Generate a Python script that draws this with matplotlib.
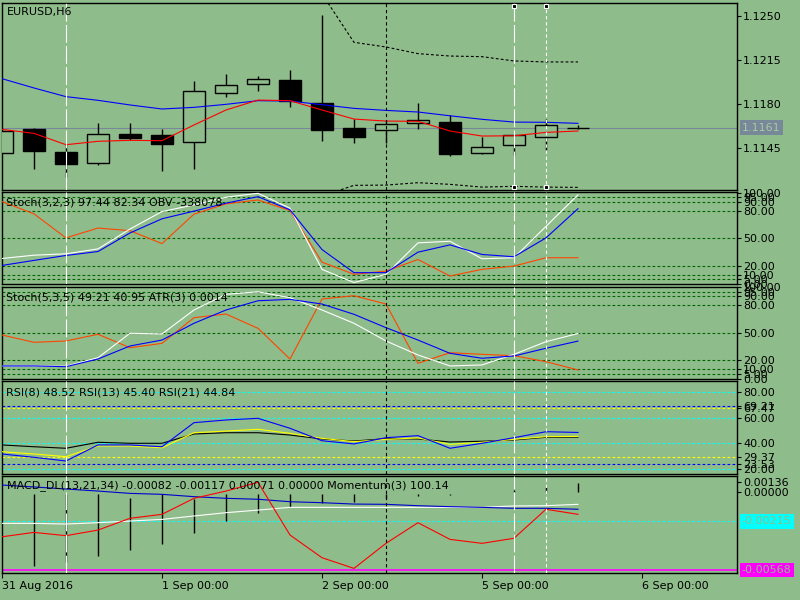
import numpy as np
import matplotlib
matplotlib.use('Agg')
import matplotlib.pyplot as plt
import matplotlib.transforms as mtrans
from matplotlib.patches import Rectangle

# ---- data (bar index 0..18, H6 bars) ----
opens = [1.11410, 1.11599, 1.11413, 1.11331, 1.11556, 1.11549, 1.11493, 1.11883, 1.11954, 1.11986,
         1.11803, 1.11607, 1.11588, 1.11644, 1.11652, 1.11410, 1.11469, 1.11533, 1.11610]
highs = [1.11585, 1.11609, 1.11485, 1.11644, 1.11644, 1.11596, 1.11981, 1.12036, 1.12020, 1.12066,
         1.12506, 1.11676, 1.11670, 1.11803, 1.11708, 1.11537, 1.11553, 1.11676, 1.11628]
lows = [1.11410, 1.11283, 1.11214, 1.11315, 1.11511, 1.11267, 1.11283, 1.11856, 1.11903, 1.11771,
        1.11506, 1.11490, 1.11490, 1.11601, 1.11386, 1.11402, 1.11394, 1.11434, 1.11601]
closes = [1.11585, 1.11426, 1.11323, 1.11561, 1.11530, 1.11482, 1.11899, 1.11946, 1.11994, 1.11821,
          1.11593, 1.11533, 1.11636, 1.11668, 1.11402, 1.11453, 1.11549, 1.11628, 1.11610]
ma_slow = [1.11999, 1.11925, 1.11856, 1.11827, 1.11790, 1.11758, 1.11771, 1.11795, 1.11824, 1.11821,
           1.11792, 1.11763, 1.11747, 1.11734, 1.11704, 1.11676, 1.11654, 1.11652, 1.11644]
ma_fast = [1.11596, 1.11564, 1.11474, 1.11501, 1.11509, 1.11506, 1.11631, 1.11750, 1.11829, 1.11824,
           1.11750, 1.11678, 1.11662, 1.11660, 1.11583, 1.11543, 1.11545, 1.11572, 1.11583]
band_idx = [10, 11, 12, 13, 14, 15, 16, 17, 18]
band_up = [1.12673, 1.12288, 1.12251, 1.12198, 1.12179, 1.12174, 1.12140, 1.12132, 1.12132]
band_dn = [1.11066, 1.11151, 1.11153, 1.11172, 1.11159, 1.11137, 1.11143, 1.11137, 1.11135]
last_price = 1.1161

st1_main = [27.9, 31.5, 33.0, 38.4, 60.1, 79.2, 86.5, 94.9, 99.2, 82.9, 16.0, 1.6, 10.6, 45.0, 46.7, 27.6, 28.7, 63.0, 97.44]
st1_sig = [20.3, 25.8, 31.2, 35.5, 55.8, 71.3, 79.7, 88.4, 95.5, 81.1, 37.7, 12.4, 12.4, 34.8, 42.8, 32.3, 29.8, 50.4, 82.34]
obv = [90.1, 76.7, 50.4, 61.2, 58.3, 44.2, 76.4, 87.6, 91.9, 80.3, 23.9, 10.6, 14.1, 26.8, 8.7, 16.0, 19.6, 28.7, 28.7]

st2_main = [13.8, 13.8, 13.5, 22.8, 49.5, 48.7, 74.9, 92.0, 94.8, 88.3, 74.9, 60.4, 41.1, 25.8, 13.8, 14.9, 26.5, 40.3, 49.21]
st2_sig = [13.8, 13.8, 13.0, 21.4, 35.6, 42.1, 60.4, 74.9, 85.0, 86.5, 81.4, 70.2, 55.6, 42.1, 27.6, 22.2, 24.7, 33.1, 40.95]
atr = [47.6, 39.6, 41.1, 48.4, 33.7, 38.5, 66.5, 70.5, 54.9, 21.4, 86.9, 90.5, 81.4, 16.7, 28.3, 26.5, 25.0, 18.5, 9.4]

rsi8 = [31.6, 29.0, 26.1, 38.7, 38.7, 37.3, 56.2, 58.3, 59.6, 51.8, 42.0, 39.5, 44.4, 46.0, 36.1, 40.0, 44.4, 49.1, 48.52]
rsi13 = [33.4, 31.6, 29.5, 37.9, 37.9, 36.5, 48.3, 49.6, 51.0, 47.8, 43.9, 41.3, 43.1, 44.2, 39.2, 40.8, 43.1, 45.2, 45.40]
rsi21 = [38.7, 37.3, 36.1, 40.8, 40.0, 40.0, 47.3, 48.3, 48.3, 46.5, 43.4, 41.8, 43.6, 43.4, 41.0, 41.6, 42.6, 44.7, 44.84]

macd_main = [0.00051, 0.00037, 0.00022, 0.00007, -0.00010, -0.00017, -0.00034, -0.00046, -0.00053, -0.00071,
             -0.00078, -0.00088, -0.00090, -0.00100, -0.00107, -0.00112, -0.00119, -0.00119, -0.00126]
macd_sig = [-0.00229, -0.00229, -0.00234, -0.00224, -0.00212, -0.00200, -0.00175, -0.00151, -0.00132, -0.00112,
            -0.00112, -0.00112, -0.00112, -0.00112, -0.00112, -0.00112, -0.00102, -0.00100, -0.00090]
momentum = [-0.00327, -0.00295, -0.00319, -0.00278, -0.00192, -0.00163, -0.00046, 0.00007, 0.00071, -0.00314,
            -0.00480, -0.00558, -0.00375, -0.00224, -0.00346, -0.00375, -0.00338, -0.00126, -0.00163]
hist_hi = [np.nan, -0.00017, -0.00017, -0.00017, -0.00042, -0.00017, -0.00053, -0.00017, -0.00017, -0.00017,
           -0.00017, -0.00017, -0.00017, -0.00017, -0.00017, np.nan, 0.00015, 0.00039, 0.00064]
hist_lo = [np.nan, -0.00539, -0.00510, -0.00466, -0.00422, -0.00378, -0.00298, -0.00210, -0.00151, -0.00107,
           -0.00083, -0.00075, -0.00044, -0.00026, -0.00024, np.nan, -0.00002, -0.00002, -0.00002]

date_pos = [0, 5, 10, 15, 20]
date_labels = ['31 Aug 2016', '1 Sep 00:00', '2 Sep 00:00', '5 Sep 00:00', '6 Sep 00:00']

bg = '#8FBC8B'
LW = 0.8
x = np.arange(len(closes))

fig = plt.figure(figsize=(8, 6), dpi=100, facecolor=bg)


def panel(top, bottom, ylim):
    ax = fig.add_axes([2 / 800, 1 - bottom / 600, 735 / 800, (bottom - top) / 600])
    ax.set_facecolor(bg)
    ax.set_xlim(0, 22.97)
    ax.set_ylim(*ylim)
    for s in ax.spines.values():
        s.set_color('black')
        s.set_linewidth(1)
    ax.yaxis.tick_right()
    ax.tick_params(axis='y', direction='out', length=3, width=0.8, pad=1.5, labelsize=8, colors='black')
    ax.set_xticks([])
    # vertical markers across all windows
    ax.axvline(2, color='white', lw=LW, dashes=(16, 3), zorder=5)
    ax.axvline(12, color='black', lw=LW, dashes=(3, 2.5), zorder=5)
    ax.axvline(16, color='white', lw=LW, dashes=(16, 3), zorder=5)
    ax.axvline(17, color='white', lw=LW, dashes=(3, 2.5), zorder=5)
    return ax


def box_label(ax, y, text, fc, tc):
    tr = mtrans.blended_transform_factory(ax.transAxes, ax.transData)
    ax.text(1.0065, y, text, transform=tr, va='center', ha='left', fontsize=8, color=tc,
            bbox=dict(boxstyle='square,pad=0.2', fc=fc, ec='none'), clip_on=False)


# ---- price window ----
ax1 = panel(2.7, 190, (1.11114, 1.12603))
ax1.axhline(last_price, color='#778899', lw=LW, zorder=1)
for i in x:
    o, h, l, c = opens[i], highs[i], lows[i], closes[i]
    ax1.vlines(i, l, h, color='black', lw=1, zorder=2)
    ax1.add_patch(Rectangle((i - 0.345, min(o, c)), 0.69, abs(c - o),
                            fc='black' if c < o else bg, ec='black', lw=1, zorder=3))
ax1.plot(x, ma_slow, color='#0000FF', lw=LW, zorder=4)
ax1.plot(x, ma_fast, color='#FF0000', lw=LW, zorder=4)
ax1.plot(band_idx, band_up, color='black', lw=LW, dashes=(2.5, 2), zorder=4)
ax1.plot(band_idx, band_dn, color='black', lw=LW, dashes=(2.5, 2), zorder=4)
trm = mtrans.blended_transform_factory(ax1.transData, ax1.transAxes)
for xv in (16, 17):
    ax1.plot([xv, xv], [0.984, 0.017], 's', ms=3.5, mfc='black', mec='white', mew=0.8,
             transform=trm, zorder=6, clip_on=False)
ax1.set_yticks([1.1250, 1.1215, 1.1180, 1.1145])
ax1.set_yticklabels(['1.1250', '1.1215', '1.1180', '1.1145'])
box_label(ax1, last_price, '1.1161', '#778899', '#A9C9A5')
fig.text(7 / 800, 1 - 12 / 600, 'EURUSD,H6', fontsize=8, va='center')

# ---- stochastic windows ----
st_levels = [95, 90, 80, 50, 20, 10, 5]
st_ticks = [100, 95, 90, 80, 50, 20, 10, 5, 0]
st_labels = ['100.00', '95.00', '90.00', '80.00', '50.00', '20.00', '10.00', '5.00', '0.00']

ax2 = panel(192, 284, (0.5, 100.6))
for lv in st_levels:
    ax2.axhline(lv, color='#006400', lw=LW, dashes=(2.5, 2), zorder=1)
ax2.plot(x, obv, color='#FF4500', lw=LW, zorder=3)
ax2.plot(x, st1_main, color='white', lw=LW, zorder=3)
ax2.plot(x, st1_sig, color='#0000FF', lw=LW, zorder=3)
ax2.set_yticks(st_ticks)
ax2.set_yticklabels(st_labels)
fig.text(6 / 800, 1 - 202.5 / 600, 'Stoch(3,2,3) 97.44 82.34 OBV -338078', fontsize=8, va='center')

ax3 = panel(287, 378.6, (0, 100))
for lv in st_levels:
    ax3.axhline(lv, color='#006400', lw=LW, dashes=(2.5, 2), zorder=1)
ax3.plot(x, atr, color='#FF4500', lw=LW, zorder=3)
ax3.plot(x, st2_main, color='white', lw=LW, zorder=3)
ax3.plot(x, st2_sig, color='#0000FF', lw=LW, zorder=3)
ax3.set_yticks(st_ticks)
ax3.set_yticklabels(st_labels)
fig.text(6 / 800, 1 - 297.5 / 600, 'Stoch(5,3,5) 49.21 40.95 ATR(3) 0.0014', fontsize=8, va='center')

# ---- RSI window ----
ax4 = panel(381, 474, (15.9, 88.9))
for lv in (80, 60, 40, 20):
    ax4.axhline(lv, color='#00FFFF', lw=LW, dashes=(2.5, 2), zorder=1)
for lv in (69.21, 23.53):
    ax4.axhline(lv, color='#0000FF', lw=LW, dashes=(2.5, 2), zorder=1)
for lv in (67.47, 29.37):
    ax4.axhline(lv, color='#FFFF00', lw=LW, dashes=(2.5, 2), zorder=1)
ax4.plot(x, rsi21, color='black', lw=LW, zorder=3)
ax4.plot(x, rsi13, color='#FFFF00', lw=LW, zorder=3)
ax4.plot(x, rsi8, color='#0000FF', lw=LW, zorder=3)
ax4.set_yticks([80, 69.21, 67.47, 60, 40, 29.37, 23.53, 20])
ax4.set_yticklabels(['80.00', '69.21', '67.47', '60.00', '40.00', '29.37', '23.53', '20.00'])
fig.text(6 / 800, 1 - 392.5 / 600, 'RSI(8) 48.52 RSI(13) 45.40 RSI(21) 44.84', fontsize=8, va='center')

# ---- MACD / Momentum window ----
ax5 = panel(476, 572.5, (-0.00588, 0.00117))
ax5.axhline(-0.00215, color='#00FFFF', lw=LW, dashes=(2.5, 2), zorder=1)
ax5.axhline(-0.00568, color='#FF00FF', lw=1.2, zorder=1)
ax5.vlines(x, hist_lo, hist_hi, color='black', lw=1, zorder=2)
ax5.plot(x, macd_sig, color='white', lw=LW, zorder=3)
ax5.plot(x, macd_main, color='#0000CD', lw=LW, zorder=3)
ax5.plot(x, momentum, color='#FF0000', lw=LW, zorder=3)
ax5.set_yticks([0.00075, 0.0])
ax5.set_yticklabels(['0.00136', '0.00000'])
box_label(ax5, -0.00215, '-0.00215', '#00FFFF', '#8FBC8B')
box_label(ax5, -0.00568, '-0.00568', '#FF00FF', '#8FBC8B')
fig.text(7 / 800, 1 - 486 / 600,
         'MACD_DL(13,21,34) -0.00082 -0.00117 0.00071 0.00000 Momentum(3) 100.14',
         fontsize=8, va='center', zorder=10)

ax5.set_xticks(date_pos)
ax5.set_xticklabels(date_labels)
ax5.tick_params(axis='x', direction='out', length=3.5, width=0.8, pad=2.5, labelsize=8)
for lab in ax5.get_xticklabels():
    lab.set_ha('left')

fig.savefig('out.png', dpi=100, facecolor=bg)
